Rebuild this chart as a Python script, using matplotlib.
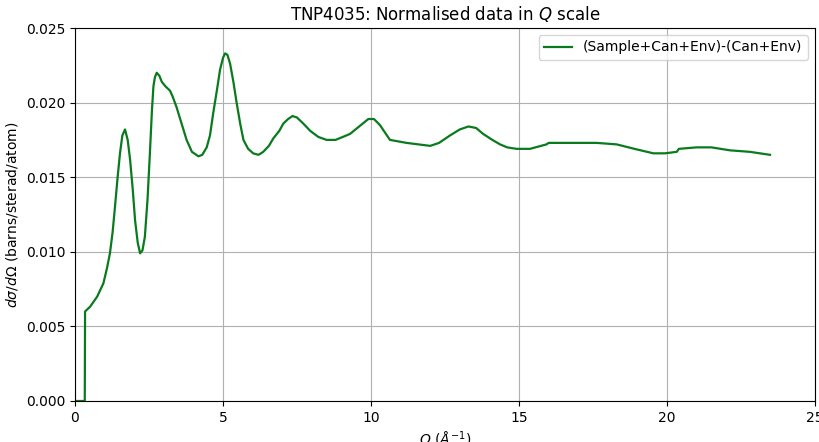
import matplotlib.pyplot as plt

# Q values (1/Angstrom) and cross section
q = [0.0, 0.33, 0.34, 0.51, 0.75, 0.96, 1.08, 1.18, 1.27, 1.35, 1.44, 1.52, 1.60, 1.69,
     1.78, 1.86, 1.95, 2.03, 2.12, 2.20, 2.28, 2.36, 2.45, 2.53, 2.60, 2.65, 2.70, 2.76,
     2.85, 2.93, 3.05, 3.21, 3.30, 3.43, 3.60, 3.77, 3.95, 4.17, 4.30, 4.45, 4.56, 4.67,
     4.80, 4.90, 5.00, 5.07, 5.15, 5.24, 5.35, 5.46, 5.58, 5.69, 5.85, 6.02, 6.20, 6.36,
     6.55, 6.70, 6.90, 7.04, 7.20, 7.35, 7.50, 7.71, 7.95, 8.22, 8.50, 8.80, 9.05, 9.29,
     9.60, 9.91, 10.10, 10.30, 10.64, 11.20, 11.60, 12.00, 12.30, 12.67, 13.00, 13.29,
     13.55, 13.79, 14.10, 14.36, 14.60, 14.92, 15.37, 15.93, 16.00, 16.50, 17.00, 17.62,
     18.30, 18.90, 19.54, 19.93, 20.33, 20.40, 21.00, 21.50, 22.13, 22.80, 23.48]
sigma = [0.0, 0.0, 0.0060, 0.00632, 0.0070, 0.00789, 0.0089, 0.0099, 0.0113, 0.0130, 0.0150,
         0.0166, 0.0178, 0.0182, 0.0175, 0.0162, 0.0142, 0.0121, 0.0106, 0.0099, 0.0101,
         0.0110, 0.0135, 0.0166, 0.0195, 0.0211, 0.0217, 0.0220, 0.0218, 0.0214, 0.0211,
         0.0208, 0.0204, 0.0197, 0.0186, 0.0175, 0.0167, 0.0164, 0.0165, 0.0170, 0.0178,
         0.0193, 0.0209, 0.0222, 0.0230, 0.0233, 0.0232, 0.0226, 0.0214, 0.0200, 0.0186,
         0.0175, 0.0169, 0.0166, 0.0165, 0.0167, 0.0171, 0.0176, 0.0181, 0.0186, 0.0189,
         0.0191, 0.0190, 0.0186, 0.0181, 0.0177, 0.0175, 0.0175, 0.0177, 0.0179, 0.0184,
         0.0189, 0.0189, 0.0185, 0.0175, 0.0173, 0.0172, 0.0171, 0.0173, 0.0178, 0.0182,
         0.0184, 0.0183, 0.0179, 0.0175, 0.0172, 0.0170, 0.0169, 0.0169, 0.0172, 0.0173,
         0.0173, 0.0173, 0.0173, 0.0172, 0.0169, 0.0166, 0.0166, 0.0167, 0.0169, 0.0170,
         0.0170, 0.0168, 0.0167, 0.0165]

fig, ax = plt.subplots(figsize=(8.2, 4.42), dpi=100)
fig.subplots_adjust(left=75/820, right=815/820, top=1-28/442, bottom=1-401/442)

ax.plot(q, sigma, color='#0a7a1e', lw=1.6, label='(Sample+Can+Env)-(Can+Env)')
ax.set_xlim(0, 25)
ax.set_ylim(0, 0.025)
ax.set_title('TNP4035: Normalised data in $Q$ scale')
ax.set_xlabel(r'$Q$ ($\AA^{-1}$)')
ax.set_ylabel(r'$d\sigma/d\Omega$ (barns/sterad/atom)')
ax.grid(True)
ax.legend(loc='upper right')

plt.savefig('out.png')
